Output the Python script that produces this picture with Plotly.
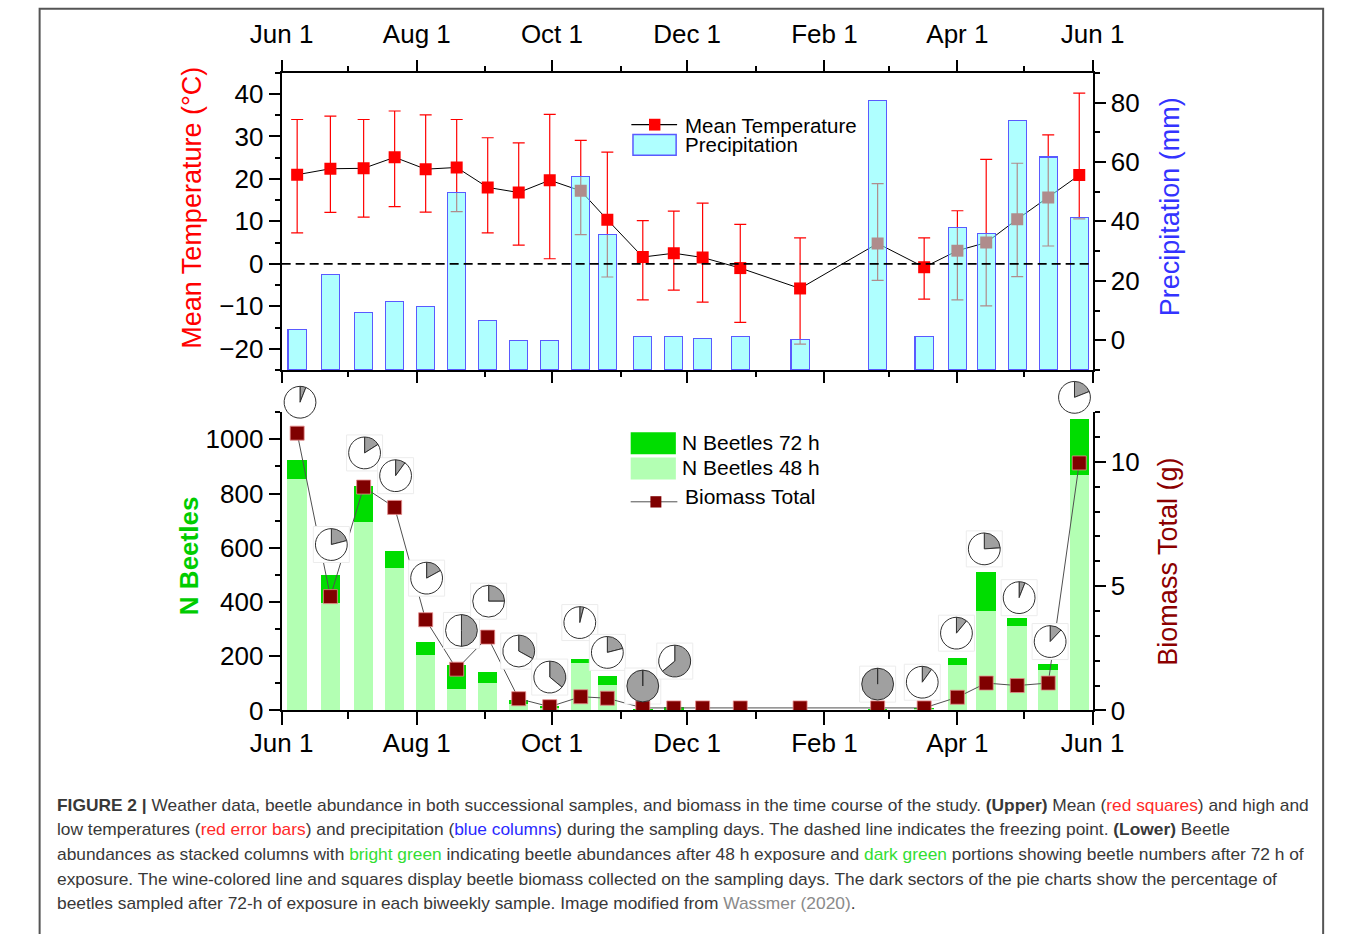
import pandas as pd
import plotly.graph_objects as go

# ---------------------------------------------------------------- data
sample_dates = [
    "2019-06-08", "2019-06-23", "2019-07-08", "2019-07-22", "2019-08-05",
    "2019-08-19", "2019-09-02", "2019-09-16", "2019-09-30", "2019-10-14",
    "2019-10-26", "2019-11-11", "2019-11-25", "2019-12-08", "2019-12-25",
    "2020-01-21", "2020-02-25", "2020-03-17", "2020-04-01", "2020-04-14",
    "2020-04-28", "2020-05-12", "2020-05-26",
]
temp_mean = [21.0, 22.4, 22.5, 25.1, 22.3, 22.7, 18.0, 16.8, 19.7, 17.2, 10.4, 1.6,
             2.5, 1.5, -1.0, -5.8, 4.8, -0.8, 3.1, 5.0, 10.5, 15.6, 20.9]
temp_high = [34.0, 34.8, 34.0, 36.0, 35.1, 34.0, 29.7, 28.5, 35.2, 29.1, 26.3, 10.2,
             12.4, 14.3, 9.3, 6.1, 18.9, 6.1, 12.5, 24.6, 23.7, 30.4, 40.2]
temp_low = [7.3, 12.1, 11.0, 13.5, 12.2, 12.3, 7.3, 4.4, 1.2, 6.9, -3.1, -8.5,
            -6.2, -9.0, -13.8, -18.9, -3.9, -8.3, -8.5, -9.9, -3.0, 4.2, 10.6]
precip_mm = [3.5, 22.2, 9.3, 13.0, 11.3, 49.6, 6.7, 0.0, 0.0, 55.1, 35.5, 1.3,
             1.3, 0.7, 1.3, 0.3, 80.6, 1.3, 37.9, 36.0, 74.0, 61.7, 41.4]
beetles_48h = [853, 395, 697, 527, 204, 79, 100, 22, 8, 175, 95, 0,
               4, 0, 0, 0, 0, 5, 168, 368, 313, 148, 867]
beetles_72h = [71, 103, 130, 62, 48, 89, 41, 15, 7, 16, 31, 2,
               7, 0, 0, 0, 1, 1, 24, 143, 27, 23, 210]
biomass_g = [11.16, 4.58, 8.99, 8.17, 3.65, 1.66, 2.95, 0.47, 0.15, 0.55, 0.49, 0.10,
             0.10, 0.10, 0.10, 0.10, 0.10, 0.10, 0.53, 1.10, 1.00, 1.10, 9.96]
# share (%) of each biweekly sample caught after 72 h; None = no beetles caught
share_72h_pct = [6, 21, 16, 10, 17, 50, 25, 33, 36, 4, 21, 100,
                 64, None, None, None, 100, 10, 11, 24, 6, 12, 19]

# ---------------------------------------------------------------- layout constants
W, H = 1358, 934
FONT = "Liberation Sans, Arial, sans-serif"
X_START, X_END = "2019-06-01", "2020-06-01"
PLOT_L, PLOT_R = 262, 1113
TOP_T, TOP_B = 74, 376
BOT_T, BOT_B = 419, 722
TEMP_RANGE = [-25, 45]
PREC_RANGE = [-10, 90]
N_RANGE = [0, 1100]
BIO_RANGE = [0, 12]

# where each pie sits: height in N-beetle units and a small sideways nudge (px)
pie_height_n = [1137, 612, 950, 866, 488, 295, 403, 219, 123, 324, 214, 90,
                182, None, None, None, 97, 104, 285, 596, 416, 254, 1155]
pie_dx_px = [3, 1, 1, 1, 1, 5, 1, 0, 0, -1, 0, 0, 1, 0, 0, 0, 0, -2, -1, -2, 2, 2, -5]
PIE_R = 16.7
PIE_BOX = 36

T0, T1 = pd.Timestamp(X_START), pd.Timestamp(X_END)


def date_px(d):
    return PLOT_L + (pd.Timestamp(d) - T0) / (T1 - T0) * (PLOT_R - PLOT_L)


def n_px(n):
    return BOT_B - (n - N_RANGE[0]) / (N_RANGE[1] - N_RANGE[0]) * (BOT_B - BOT_T)


def fx(p):
    return p / W


def fy(p):
    return 1 - p / H


PREC_FILL = "rgba(110,255,255,0.55)"
PREC_LINE = "#5a5aff"
GREEN_72 = "#00dd00"
GREEN_48 = "#b3ffb3"
WINE = "#800000"
DAY_MS = 86400000

fig = go.Figure()

# ---------------------------------------------------------------- upper panel
fig.add_trace(go.Scatter(
    x=sample_dates, y=temp_mean, mode="lines+markers",
    line=dict(color="black", width=1),
    marker=dict(symbol="square", size=12, color="red"),
    error_y=dict(type="data", symmetric=False,
                 array=[h - m for h, m in zip(temp_high, temp_mean)],
                 arrayminus=[m - l for m, l in zip(temp_mean, temp_low)],
                 color="red", thickness=1.2, width=6),
    xaxis="x", yaxis="y", showlegend=False, hoverinfo="skip",
))
fig.add_trace(go.Bar(
    x=sample_dates, y=[p - PREC_RANGE[0] for p in precip_mm], base=PREC_RANGE[0],
    width=8.2 * DAY_MS,
    marker=dict(color=PREC_FILL, line=dict(color=PREC_LINE, width=1.2)),
    xaxis="x", yaxis="y2", showlegend=False, hoverinfo="skip",
))

# ---------------------------------------------------------------- lower panel
fig.add_trace(go.Bar(
    x=sample_dates, y=beetles_48h, width=8.8 * DAY_MS,
    marker=dict(color=GREEN_48, line=dict(width=0)),
    xaxis="x2", yaxis="y3", showlegend=False, hoverinfo="skip",
))
fig.add_trace(go.Bar(
    x=sample_dates, y=beetles_72h, width=8.8 * DAY_MS,
    marker=dict(color=GREEN_72, line=dict(width=0)),
    xaxis="x2", yaxis="y3", showlegend=False, hoverinfo="skip",
))
fig.add_trace(go.Scatter(
    x=sample_dates, y=biomass_g, mode="lines",
    line=dict(color="#505050", width=1),
    xaxis="x2", yaxis="y4", showlegend=False, hoverinfo="skip",
))

# white backing squares behind the pies
bio_per_n = (BIO_RANGE[1] - BIO_RANGE[0]) / (N_RANGE[1] - N_RANGE[0])
px_per_day = (PLOT_R - PLOT_L) / ((T1 - T0) / pd.Timedelta(days=1))
box_x, box_y = [], []
for d, h, dx in zip(sample_dates, pie_height_n, pie_dx_px):
    if h is None:
        continue
    box_x.append(pd.Timestamp(d) + pd.Timedelta(days=dx / px_per_day))
    box_y.append(h * bio_per_n)
fig.add_trace(go.Scatter(
    x=box_x, y=box_y, mode="markers", cliponaxis=False,
    marker=dict(symbol="square", size=PIE_BOX, color="white",
                line=dict(color="#ececec", width=1)),
    xaxis="x2", yaxis="y4", showlegend=False, hoverinfo="skip",
))
fig.add_trace(go.Scatter(
    x=sample_dates, y=biomass_g, mode="markers",
    marker=dict(symbol="square", size=14, color=WINE,
                line=dict(color="rgba(230,140,140,0.8)", width=1)),
    xaxis="x2", yaxis="y4", showlegend=False, hoverinfo="skip",
))

# pies: dark sector = share of the sample caught after 72 h
for d, share, h, dx in zip(sample_dates, share_72h_pct, pie_height_n, pie_dx_px):
    if share is None:
        continue
    cx = date_px(d) + dx
    cy = n_px(h)
    fig.add_trace(go.Pie(
        values=[share, 100 - share], sort=False, direction="counterclockwise",
        rotation=0, textinfo="none", hoverinfo="skip", showlegend=False,
        marker=dict(colors=["#a0a0a0", "white"], line=dict(color="#303030", width=1)),
        domain=dict(x=[fx(cx - PIE_R), fx(cx + PIE_R)],
                    y=[fy(cy + PIE_R), fy(cy - PIE_R)]),
    ))

# ---------------------------------------------------------------- axes
tickfont = dict(family=FONT, size=26, color="black")
base_axis = dict(showline=True, linecolor="black", linewidth=2, ticks="outside",
                 ticklen=11, tickwidth=2, tickcolor="black", showgrid=False,
                 zeroline=False, tickfont=tickfont)


def minor(dtick, **kw):
    return dict(dtick=dtick, ticks="outside", ticklen=5, tickwidth=2,
                tickcolor="black", showgrid=False, **kw)


xdomain = [fx(PLOT_L), fx(PLOT_R)]
date_axis = dict(base_axis, type="date", range=[X_START, X_END], domain=xdomain,
                 tick0=X_START, dtick="M2", tickformat="%b %-d",
                 minor=minor("M1", tick0=X_START))

fig.update_layout(
    width=W, height=H, autosize=False,
    margin=dict(l=0, r=0, t=0, b=0),
    paper_bgcolor="white", plot_bgcolor="rgba(0,0,0,0)",
    font=dict(family=FONT, color="black"),
    barmode="stack", showlegend=False,
    xaxis=dict(date_axis, anchor="y", side="top", mirror="ticks",
               ticklabelstandoff=6),
    yaxis=dict(base_axis, domain=[fy(TOP_B), fy(TOP_T)], range=TEMP_RANGE,
               tick0=0, dtick=10, minor=minor(5), anchor="x"),
    yaxis2=dict(base_axis, overlaying="y", side="right", anchor="x",
                range=PREC_RANGE, tick0=0, dtick=20, minor=minor(10)),
    xaxis2=dict(date_axis, anchor="y3", side="bottom", ticklen=13,
                ticklabelstandoff=-5,
                minor=minor("M1", tick0=X_START) | dict(ticklen=7)),
    yaxis3=dict(base_axis, domain=[fy(BOT_B), fy(BOT_T)], range=N_RANGE,
                tick0=0, dtick=200, minor=minor(100), anchor="x2"),
    yaxis4=dict(base_axis, overlaying="y3", side="right", anchor="x2",
                range=BIO_RANGE, tick0=0, dtick=5, minor=minor(1)),
)

# ---------------------------------------------------------------- shapes
shapes = [
    # freezing point
    dict(type="line", xref="x", yref="y", x0=X_START, x1=X_END, y0=0, y1=0,
         line=dict(color="black", width=1.6, dash="9px,5px"), layer="above"),
    # outer frame
    dict(type="rect", xref="paper", yref="paper", x0=fx(8), x1=fx(1355),
         y0=-0.02, y1=fy(9), line=dict(color="#555555", width=2)),
    # upper legend
    dict(type="line", xref="paper", yref="paper", x0=fx(629), x1=fx(677),
         y0=fy(126.7), y1=fy(126.7), line=dict(color="black", width=1.2)),
    dict(type="rect", xref="paper", yref="paper", x0=fx(647.5), x1=fx(659.5),
         y0=fy(132.7), y1=fy(120.7), fillcolor="red", line=dict(width=0)),
    dict(type="rect", xref="paper", yref="paper", x0=fx(630.7), x1=fx(676),
         y0=fy(157.7), y1=fy(136.7), fillcolor=PREC_FILL,
         line=dict(color=PREC_LINE, width=1.5)),
    # lower legend
    dict(type="rect", xref="paper", yref="paper", x0=fx(628.3), x1=fx(675.7),
         y0=fy(461.7), y1=fy(439.3), fillcolor=GREEN_72, line=dict(width=0)),
    dict(type="rect", xref="paper", yref="paper", x0=fx(628.3), x1=fx(675.7),
         y0=fy(487.3), y1=fy(465), fillcolor=GREEN_48, line=dict(width=0)),
    dict(type="line", xref="paper", yref="paper", x0=fx(628.3), x1=fx(677.3),
         y0=fy(510), y1=fy(510), line=dict(color="#505050", width=1)),
    dict(type="rect", xref="paper", yref="paper", x0=fx(649), x1=fx(660.5),
         y0=fy(515.8), y1=fy(504.3), fillcolor=WINE, line=dict(width=0)),
]
fig.update_layout(shapes=shapes)

# ---------------------------------------------------------------- text
ann = []


def label(text, x, y, size, color="black", angle=0, xanchor="center", bold=False):
    if bold:
        text = f"<b>{text}</b>"
    ann.append(dict(text=text, x=fx(x), y=fy(y), xref="paper", yref="paper",
                    xanchor=xanchor, yanchor="middle", showarrow=False,
                    textangle=angle, font=dict(family=FONT, size=size, color=color)))


label("Mean Temperature (°C)", 168, 211, 27, "red", -90)
label("Precipitation (mm)", 1194, 210, 27, "#3333ff", -90)
label("N Beetles", 165, 565, 26, "#00cc00", -90, bold=True)
label("Biomass Total (g)", 1192, 571, 27, "#8b0000", -90)

label("Mean Temperature", 683, 127.5, 20.5, xanchor="left")
label("Precipitation", 683, 147, 20.5, xanchor="left")
label("N Beetles 72 h", 680, 449.5, 21, xanchor="left")
label("N Beetles 48 h", 680, 475.5, 21, xanchor="left")
label("Biomass Total", 683, 505, 21, xanchor="left")

RED, BLUE, LIME, GREY = "#ff2a2a", "#2a2aff", "#33dd33", "#8a8a8a"


def c(text, col):
    return f"<span style='color:{col}'>{text}</span>"


caption = [
    "<b>FIGURE 2 |</b> Weather data, beetle abundance in both successional samples, and biomass "
    "in the time course of the study. <b>(Upper)</b> Mean (" + c("red squares", RED) + ") and high and",
    "low temperatures (" + c("red error bars", RED) + ") and precipitation (" + c("blue columns", BLUE)
    + ") during the sampling days. The dashed line indicates the freezing point. <b>(Lower)</b> Beetle",
    "abundances as stacked columns with " + c("bright green", LIME) + " indicating beetle abundances "
    "after 48 h exposure and " + c("dark green", LIME) + " portions showing beetle numbers after 72 h of",
    "exposure. The wine-colored line and squares display beetle biomass collected on the sampling "
    "days. The dark sectors of the pie charts show the percentage of",
    "beetles sampled after 72-h of exposure in each biweekly sample. Image modified from "
    + c("Wassmer (2020)", GREY) + ".",
]
for i, line in enumerate(caption):
    label(line, 24, 818 + 25 * i, 17.35, "#383838", xanchor="left")

fig.update_layout(annotations=ann)
fig.write_html("out.html")
